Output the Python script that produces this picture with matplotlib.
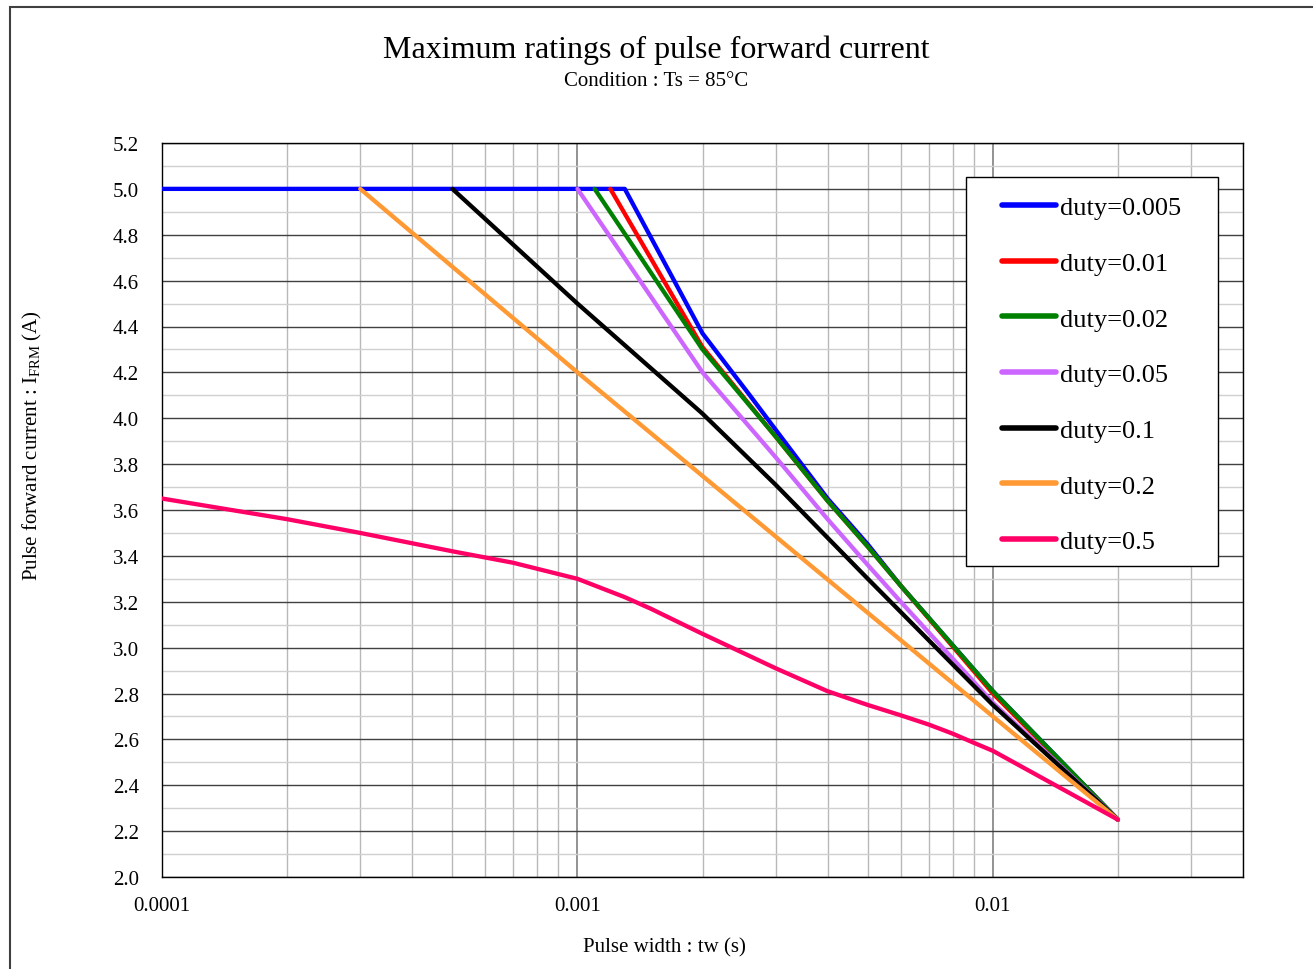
import matplotlib
matplotlib.use('Agg')
import matplotlib.pyplot as plt
from matplotlib.patches import Rectangle
from matplotlib.ticker import LogLocator, NullFormatter, MultipleLocator

plt.rcParams['font.family'] = ['Liberation Serif', 'DejaVu Serif']
plt.rcParams['mathtext.fontset'] = 'custom'
plt.rcParams['mathtext.rm'] = 'Liberation Serif'

# Data (pulse width in s, current in A)
labels = ['duty=0.005', 'duty=0.01', 'duty=0.02', 'duty=0.05', 'duty=0.1', 'duty=0.2', 'duty=0.5']
colors = ['#0000FF', '#FF0000', '#008000', '#CC66FF', '#000000', '#FF9933', '#FF0066']

tw_005 = [0.0001, 0.0013, 0.002, 0.0026, 0.003, 0.004, 0.005, 0.006, 0.01, 0.02]
if_005 = [5.0, 5.0, 4.37, 4.10, 3.95, 3.65, 3.45, 3.27, 2.81, 2.25]

tw_01 = [0.0012, 0.002, 0.003, 0.004, 0.005, 0.006, 0.01, 0.02]
if_01 = [5.0, 4.31, 3.92, 3.64, 3.44, 3.27, 2.80, 2.25]

tw_02 = [0.0011, 0.002, 0.003, 0.004, 0.005, 0.006, 0.01, 0.02]
if_02 = [5.0, 4.30, 3.92, 3.64, 3.44, 3.27, 2.81, 2.25]

tw_05 = [0.001, 0.002, 0.003, 0.004, 0.005, 0.006, 0.01, 0.02]
if_05 = [5.0, 4.2, 3.83, 3.56, 3.36, 3.2, 2.76, 2.25]

tw_1 = [0.0005, 0.001, 0.002, 0.003, 0.005, 0.01, 0.02]
if_1 = [5.0, 4.5, 4.02, 3.71, 3.30, 2.75, 2.25]

tw_2 = [0.0003, 0.001, 0.01, 0.02]
if_2 = [5.0, 4.2, 2.7, 2.25]

tw_5 = [0.0001, 0.0002, 0.0003, 0.0005, 0.0007, 0.001, 0.0013, 0.0015, 0.002, 0.003,
        0.004, 0.005, 0.006, 0.007, 0.008, 0.009, 0.01, 0.02]
if_5 = [3.65, 3.56, 3.50, 3.42, 3.37, 3.30, 3.22, 3.17, 3.06, 2.91,
        2.81, 2.75, 2.705, 2.665, 2.625, 2.585, 2.55, 2.25]

series_x = [tw_005, tw_01, tw_02, tw_05, tw_1, tw_2, tw_5]
series_y = [if_005, if_01, if_02, if_05, if_1, if_2, if_5]

xtick_vals = [0.0001, 0.001, 0.01]
xtick_labels = ['0.0001', '0.001', '0.01']

fig = plt.figure(figsize=(13.13, 9.70), dpi=100)
ax = fig.add_axes([162 / 1313, 1 - 878 / 970, (1243 - 162) / 1313, (878 - 144) / 970])

for x, y, c, lab in zip(series_x, series_y, colors, labels):
    ax.plot(x, y, color=c, linewidth=3.1, label=lab, solid_capstyle='round', zorder=3)

ax.set_xscale('log')
ax.set_xlim(0.0001, 0.04)
ax.set_ylim(2.0, 5.2)
ax.yaxis.set_major_locator(MultipleLocator(0.2))
ax.yaxis.set_minor_locator(MultipleLocator(0.1))
ax.set_yticklabels([f'{v:.1f}' for v in ax.get_yticks()])
ax.set_xticks(xtick_vals)
ax.set_xticklabels(xtick_labels)
ax.xaxis.set_minor_locator(LogLocator(base=10, subs=[2, 3, 4, 5, 6, 7, 8, 9]))
ax.xaxis.set_minor_formatter(NullFormatter())

ax.grid(which='major', axis='y', color='#404040', linewidth=1, zorder=1)
ax.grid(which='minor', axis='y', color='#d0d0d0', linewidth=1, zorder=0)
ax.grid(which='major', axis='x', color='#808080', linewidth=1.2, zorder=1)
ax.grid(which='minor', axis='x', color='#b8b8b8', linewidth=1, zorder=0)
ax.set_axisbelow(True)

ax.tick_params(which='both', length=0)
ax.tick_params(axis='y', pad=16.5, labelsize=15)
ax.tick_params(axis='x', pad=14, labelsize=15)
for sp in ax.spines.values():
    sp.set_color('black')
    sp.set_linewidth(1)

# legend box
box = Rectangle((0.7438, 0.4237), 0.2331, 0.53, transform=ax.transAxes,
                facecolor='white', edgecolor='black', linewidth=1, zorder=4)
ax.add_patch(box)
leg = ax.legend(loc='upper left', bbox_to_anchor=(0.777, 0.928), frameon=False,
                fontsize=19, handlelength=2.05, handletextpad=0.15, labelspacing=1.22,
                borderpad=0, borderaxespad=0)
leg.set_zorder(5)
for line in leg.get_lines():
    line.set_linewidth(4)
    line.set_solid_capstyle('round')

fig.text(0.5, 1 - 50 / 970, 'Maximum ratings of pulse forward current', ha='center', va='center', fontsize=23)
fig.text(0.5, 1 - 81 / 970, 'Condition : Ts = 85°C', ha='center', va='center', fontsize=15)
fig.text(664.5 / 1313, 1 - 948 / 970, 'Pulse width : tw (s)', ha='center', va='center', fontsize=15)
fig.text(32 / 1313, 1 - 446 / 970, r'Pulse forward current : I$_{\mathregular{FRM}}$ (A)',
         ha='center', va='center', rotation=90, fontsize=15)

# outer chart frame
fig.patches.append(Rectangle((10 / 1313, -0.02), 1.05, 1 - 8 / 970 + 0.02, transform=fig.transFigure,
                             fill=False, edgecolor='#404040', linewidth=1.5))

fig.savefig('out.png', dpi=100)
